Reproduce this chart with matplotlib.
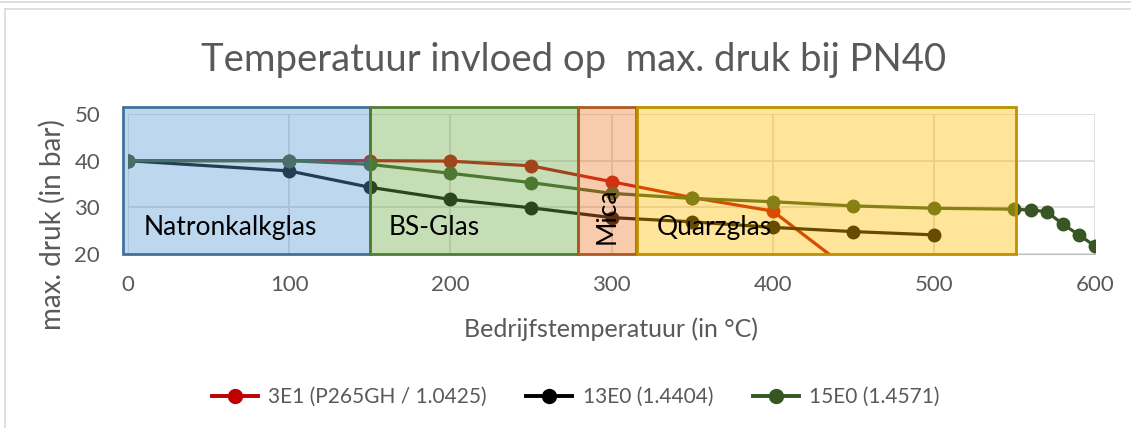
import matplotlib.pyplot as plt
from matplotlib.patches import Rectangle
from matplotlib.lines import Line2D

plt.rcParams["font.family"] = ["Lato", "DejaVu Sans"]

# Data
temp_3e1 = [0, 100, 150, 200, 250, 300, 350, 400, 450]
druk_3e1 = [40, 40, 40, 39.9, 38.9, 35.5, 32.1, 29.2, 16.0]

temp_13e0 = [0, 100, 150, 200, 250, 300, 350, 400, 450, 500]
druk_13e0 = [40, 37.8, 34.3, 31.7, 29.9, 27.8, 26.9, 25.7, 24.8, 24.1]

temp_15e0 = [0, 100, 150, 200, 250, 300, 350, 400, 450, 500, 550, 560, 570, 580, 590, 600]
druk_15e0 = [40, 40, 39.2, 37.3, 35.3, 33.0, 31.9, 31.2, 30.3, 29.8, 29.6, 29.4, 29.1, 26.4, 24.1, 21.7]

series = [("3E1 (P265GH / 1.0425)", temp_3e1, druk_3e1, "#C00000"),
          ("13E0 (1.4404)", temp_13e0, druk_13e0, "#000000"),
          ("15E0 (1.4571)", temp_15e0, druk_15e0, "#375623")]

# glass type zones: name, start, end, fill, edge
zones = [("Natronkalkglas", -3, 150, "#5B9BD5", "#41719C"),
         ("BS-Glas", 150, 279, "#70AD47", "#507E32"),
         ("Mica", 279, 315, "#ED7D31", "#AE5A21"),
         ("Quarzglas", 316, 551, "#FFC000", "#BF9000")]

grey = "#595959"

fig = plt.figure(figsize=(11.31, 4.28), dpi=100)
ax = fig.add_axes([128 / 1131, 1 - 254 / 428, (1095 - 128) / 1131, (254 - 114) / 428])

for name, x, y, c in series:
    ax.plot(x, y, color=c, lw=2.3, marker="o", ms=9, zorder=3)

for name, x0, x1, fc, ec in zones:
    ax.add_patch(Rectangle((x0, 20), x1 - x0, 31.5, facecolor=fc, alpha=0.4,
                           edgecolor="none", zorder=4, clip_on=False))
    ax.add_patch(Rectangle((x0, 20), x1 - x0, 31.5, facecolor="none",
                           edgecolor=ec, lw=2, zorder=5, clip_on=False))

ax.text(10, 25.6, "Natronkalkglas", fontsize=19, va="center", ha="left", zorder=6)
ax.text(162, 25.6, "BS-Glas", fontsize=19, va="center", ha="left", zorder=6)
ax.text(297, 28.2, "Mica", fontsize=19, va="center", ha="center", rotation=90, zorder=6)
ax.text(328, 25.6, "Quarzglas", fontsize=19, va="center", ha="left", zorder=6)

ax.set_xlim(0, 600)
ax.set_ylim(20, 50)
ax.set_xticks(range(0, 601, 100))
ax.set_yticks(range(20, 51, 10))
ax.grid(True, color="#D9D9D9", lw=1.2)
ax.set_axisbelow(True)
for s in ["top", "right", "left"]:
    ax.spines[s].set_visible(False)
ax.spines["bottom"].set_color("#BFBFBF")
ax.tick_params(axis="x", length=0, labelsize=16, labelcolor=grey, pad=15)
ax.tick_params(axis="y", length=0, labelsize=16, labelcolor=grey, pad=20)

ax.set_xlabel("Bedrijfstemperatuur (in °C)", fontsize=18, color=grey, labelpad=16)
fig.text(52 / 1131, 1 - 225 / 428, "max. druk (in bar)", fontsize=20, color=grey,
         rotation=90, ha="center", va="center")
fig.text(0.507, 0.86, "Temperatuur invloed op  max. druk bij PN40", fontsize=27.5,
         color=grey, ha="center", va="center")

handles = [Line2D([], [], color=c, lw=2.8, marker="o", ms=10) for _, _, _, c in series]
fig.legend(handles, [s[0] for s in series], loc="center", bbox_to_anchor=(0.509, 0.072),
           ncol=3, frameon=False, fontsize=15, labelcolor=grey, handlelength=2.2,
           handletextpad=0.5, columnspacing=1.9)

# outer chart frame
fig.add_artist(Line2D([0, 1], [1 - 2 / 428] * 2, color="#D9D9D9", lw=1.2))
fig.add_artist(Line2D([5 / 1131, 1], [1 - 9 / 428] * 2, color="#D9D9D9", lw=1.2))
fig.add_artist(Line2D([5 / 1131] * 2, [0, 1 - 9 / 428], color="#D9D9D9", lw=1.2))

fig.savefig("out.png", dpi=100)
